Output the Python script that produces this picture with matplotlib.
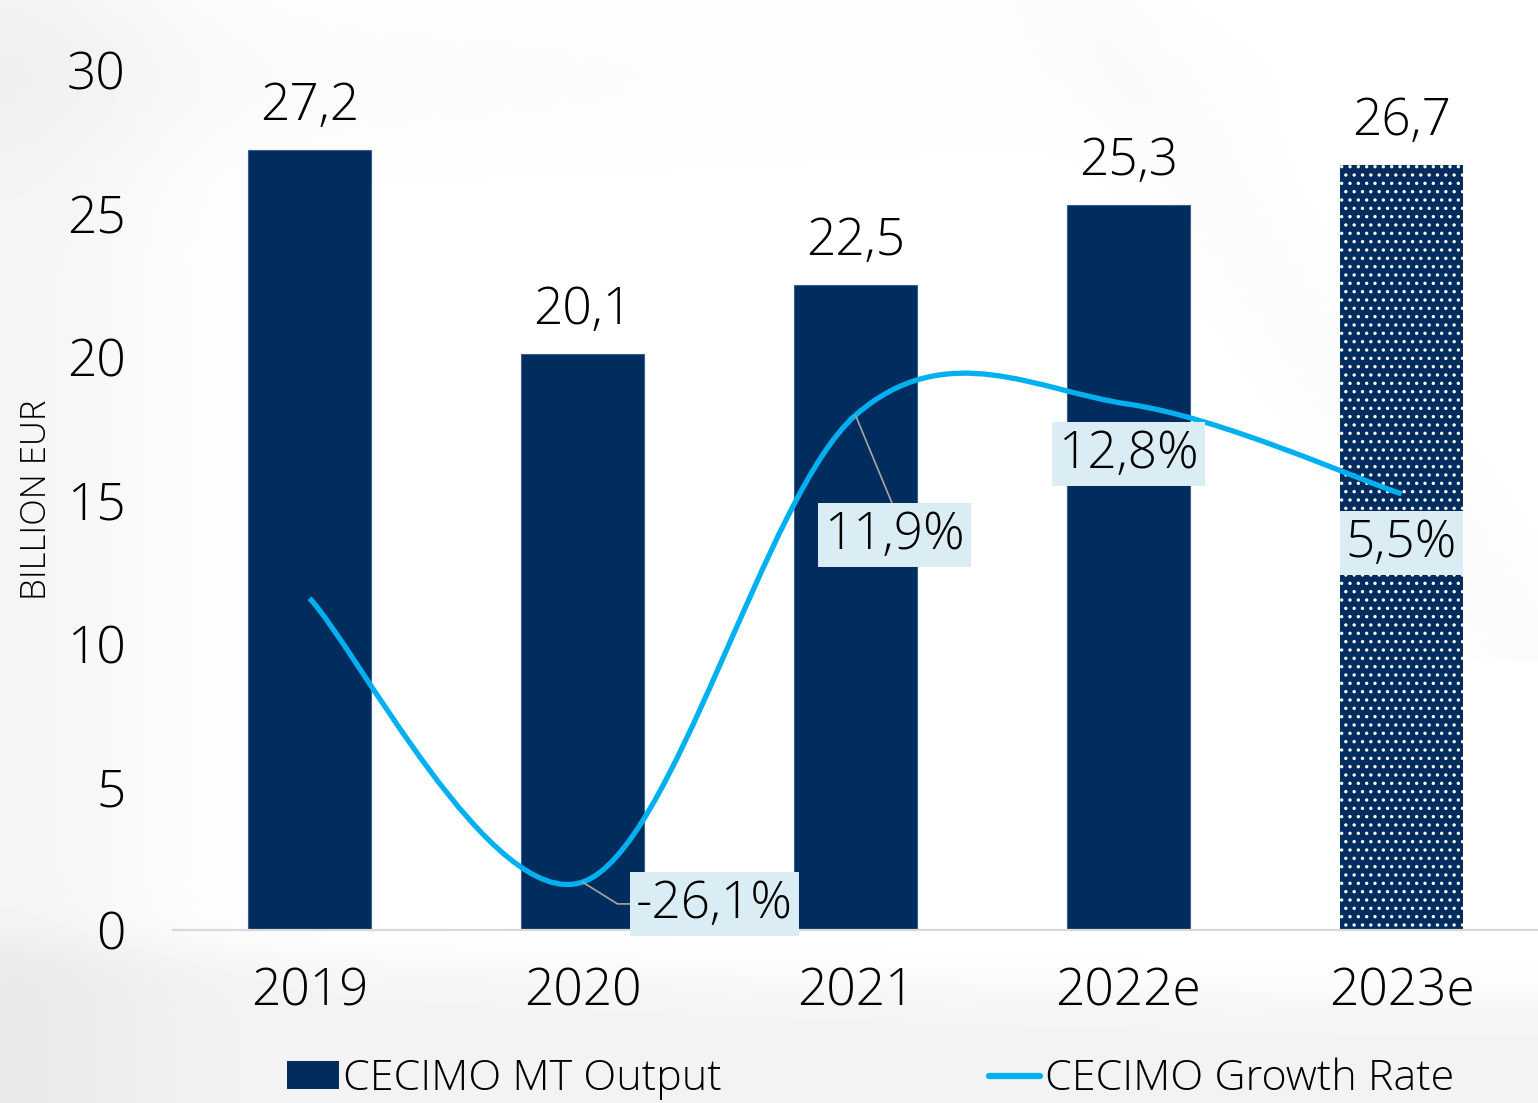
import numpy as np
import matplotlib
matplotlib.use("Agg")
import matplotlib.pyplot as plt
from matplotlib.path import Path
from matplotlib.patches import PathPatch, Patch
from matplotlib.lines import Line2D

# ---- data -------------------------------------------------------------
years = ["2019", "2020", "2021", "2022e", "2023e"]
output_bn_eur = [27.2, 20.1, 22.5, 25.3, 26.7]          # CECIMO MT Output
growth_pct = [-3.0, -26.1, 11.9, 12.8, 5.5]             # CECIMO Growth Rate
growth_labels = [None, "-26,1%", "11,9%", "12,8%", "5,5%"]
dotted_years = ["2023e"]
y_ticks = [0, 5, 10, 15, 20, 25, 30]

# ---- style ------------------------------------------------------------
NAVY = "#002D5E"
CYAN = "#00B0F0"
BOX = "#DAEDF4"
FONT = "Open Sans"
NUM_SIZE = 37
plt.rcParams["font.family"] = [FONT, "DejaVu Sans"]
plt.rcParams["font.weight"] = "light"
plt.rcParams["hatch.linewidth"] = 1.2

W, H = 1538, 1103
fig = plt.figure(figsize=(W / 100, H / 100), dpi=100)

# soft grey backdrop
bg = fig.add_axes([0, 0, 1, 1], zorder=-10)
xx, yy = np.meshgrid(np.linspace(0, 1, 400), np.linspace(0, 1, 300))
shade = np.ones_like(xx)
shade -= 0.04 * np.exp(-(xx / 0.11) ** 2)
edge = 0.095 + 0.05 * (1 - xx) ** 1.5
shade -= 0.045 / (1 + np.exp((yy - edge) / 0.012))
shade -= 0.02 * np.exp(-((yy - 0.93) / 0.08) ** 2) * (1 - xx)
shade -= 0.015 * np.exp(-(((xx - 0.75) - (0.9 - yy) * 0.5) / 0.05) ** 2) * (yy > 0.4)
bg.imshow(np.clip(shade, 0, 1), cmap="gray", vmin=0, vmax=1, aspect="auto",
          origin="lower", extent=[0, 1, 0, 1], interpolation="bilinear")
bg.axis("off")

ax = fig.add_axes([173 / W, 1 - 930 / H, (W - 173) / W, (930 - 70) / H])
ax.set_facecolor("none")
x = np.arange(len(years))

bars = ax.bar(x, output_bn_eur, width=0.45, color=NAVY, edgecolor="#3A5F8F",
              linewidth=0.8, zorder=2)
for b, yr in zip(bars, years):
    if yr in dotted_years:
        b.set_hatch("..")
        b.set_edgecolor("white")
        b.set_linewidth(0)

for xi, v in zip(x, output_bn_eur):
    ax.annotate(f"{v:.1f}".replace(".", ","), (xi, v), xytext=(0, 13),
                textcoords="offset points", ha="center", va="bottom",
                fontsize=NUM_SIZE, color="black")

ax.set_xlim(-0.5, 4.5)
ax.set_ylim(0, 30)
ax.set_yticks(y_ticks)
ax.set_yticklabels([str(t) for t in y_ticks])
ax.set_xticks(x)
ax.set_xticklabels(years)
ax.tick_params(axis="y", length=0, pad=34, labelsize=NUM_SIZE, labelcolor="black")
ax.tick_params(axis="x", length=0, pad=26, labelsize=NUM_SIZE, labelcolor="black")
for s in ["top", "right", "left"]:
    ax.spines[s].set_visible(False)
ax.spines["bottom"].set_color("#D9D9D9")
ax.spines["bottom"].set_linewidth(1.6)
ax.set_ylabel("BILLION EUR", fontsize=25, fontweight="light")
ax.yaxis.set_label_coords(-0.087, 0.5)

# growth rate on a hidden secondary scale
ax2 = ax.twinx()
ax2.set_ylim(-30, 40)
ax2.set_yticks([])
for s in ax2.spines.values():
    s.set_visible(False)


def smooth_path(xs, ys, t=1 / 6):
    pts = np.column_stack([xs, ys]).astype(float)
    n = len(pts)
    verts, codes = [pts[0]], [Path.MOVETO]
    for i in range(n - 1):
        p0, p1 = pts[max(i - 1, 0)], pts[i]
        p2, p3 = pts[i + 1], pts[min(i + 2, n - 1)]
        verts += [p1 + (p2 - p0) * t, p2 - (p3 - p1) * t, p2]
        codes += [Path.CURVE4] * 3
    return Path(verts, codes)


ax2.add_patch(PathPatch(smooth_path(x, growth_pct), facecolor="none",
                        edgecolor=CYAN, linewidth=3.8, capstyle="butt",
                        zorder=3))

# label placement (primary-axis coordinates) and leader styles
label_pos = {1: (1.484, 0.91), 2: (2.143, 13.78), 3: (3.0, 16.6), 4: (4.0, 13.5)}
leaders = {
    1: dict(arrowstyle="-", color="#A6A6A6", lw=1.2, relpos=(0, 0.5),
            connectionstyle="angle,angleA=0,angleB=-32,rad=0",
            shrinkA=0, shrinkB=0),
    2: dict(arrowstyle="-", color="#A6A6A6", lw=1.2, relpos=(0.5, 1.0),
            shrinkA=0, shrinkB=0),
}
for i, lab in enumerate(growth_labels):
    if lab is None:
        continue
    ax2.annotate(lab, (x[i], growth_pct[i]), xytext=label_pos[i],
                 textcoords=ax.transData, ha="center", va="center",
                 fontsize=NUM_SIZE, color="black", zorder=5,
                 bbox=dict(boxstyle="square,pad=0.12", fc=BOX, ec="none"),
                 arrowprops=leaders.get(i))

handles = [Patch(facecolor=NAVY, edgecolor="none"),
           Line2D([0], [0], color=CYAN, lw=4.5, solid_capstyle="round")]
fig.legend(handles, ["CECIMO MT Output", "CECIMO Growth Rate"],
           loc="center", bbox_to_anchor=(0.566, 1 - 1079 / H), ncol=2,
           frameon=False, fontsize=31, handlelength=1.2, handleheight=0.6,
           handletextpad=0.1, columnspacing=6.2, labelcolor="black")

fig.savefig("out.png", dpi=100)
